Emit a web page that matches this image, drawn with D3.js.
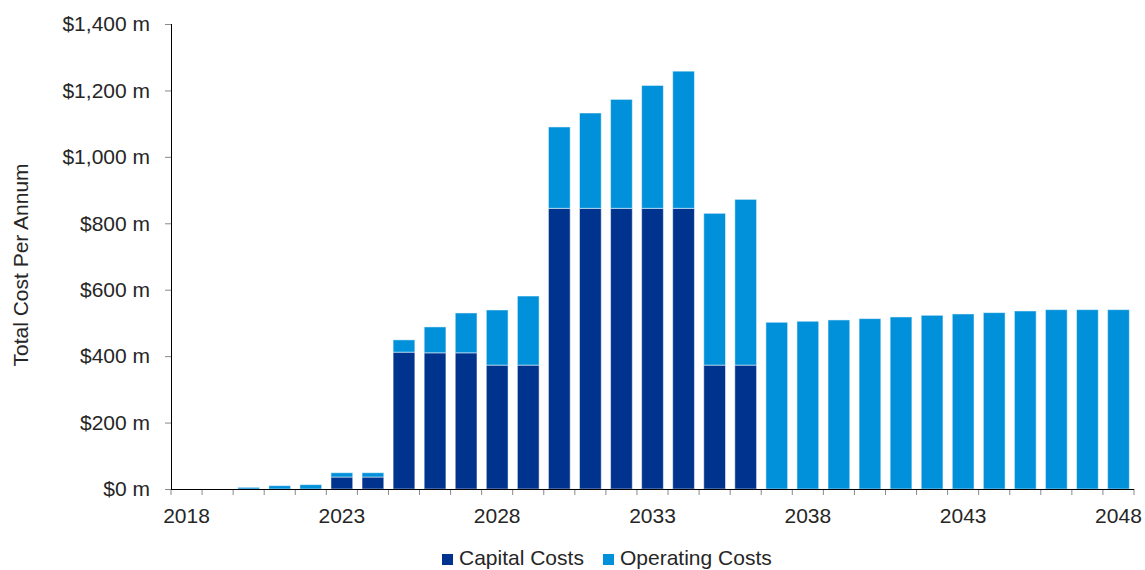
<!DOCTYPE html>
<html>
<head>
<meta charset="utf-8">
<script src="https://cdn.jsdelivr.net/npm/d3@7"></script>
<style>
  body { margin: 0; background: #fff; }
  svg text { font-family: "Liberation Sans", Arial, sans-serif; fill: #262626; }
</style>
</head>
<body>
<div id="chart"></div>
<script>
// Anos e custos (em $ milhões)
const years = d3.range(2018, 2049);
const capitalCosts = [0, 0, 0, 0, 0, 36, 36, 412, 410, 410, 373, 373, 845, 845, 845, 845, 845, 373, 373,
  0, 0, 0, 0, 0, 0, 0, 0, 0, 0, 0, 0];
const operatingCosts = [0, 0, 5, 10, 13, 13, 13, 37, 78, 120, 166, 208, 245, 287, 328, 370, 413, 457, 499,
  502, 505, 509, 513, 518, 523, 527, 531, 536, 540, 540, 540];
const yTicks = [0, 200, 400, 600, 800, 1000, 1200, 1400];
const xLabels = [2018, 2023, 2028, 2033, 2038, 2043, 2048];
const seriesNames = ["Capital Costs", "Operating Costs"];

const colors = { "Capital Costs": "#00338d", "Operating Costs": "#0091da" };

const width = 1145, height = 570;
const margin = { top: 24, right: 11, bottom: 81, left: 171 };
const innerW = width - margin.left - margin.right;
const innerH = height - margin.top - margin.bottom;

const svg = d3.select("#chart").append("svg")
  .attr("width", width)
  .attr("height", height);

const g = svg.append("g").attr("transform", `translate(${margin.left},${margin.top})`);

// Escalas
const x = d3.scaleBand().domain(years).range([0, innerW]).paddingInner(0.3).paddingOuter(0.15);
const y = d3.scaleLinear().domain([0, 1400]).range([innerH, 0]);

// Dados empilhados
const table = years.map((yr, i) => ({
  year: yr,
  "Capital Costs": capitalCosts[i],
  "Operating Costs": operatingCosts[i],
}));
const stacked = d3.stack().keys(seriesNames)(table);

// Barras
g.selectAll(".series")
  .data(stacked)
  .enter()
  .append("g")
  .attr("class", "series")
  .attr("fill", (d) => colors[d.key])
  .selectAll("rect")
  .data((d) => d.filter((p) => p[1] - p[0] > 0))
  .enter()
  .append("rect")
  .attr("x", (d) => x(d.data.year))
  .attr("width", x.bandwidth())
  .attr("y", (d) => y(d[1]))
  .attr("height", (d) => y(d[0]) - y(d[1]))
  .attr("stroke", "rgba(255,255,255,0.5)")
  .attr("stroke-width", 1);

// Eixo Y
const yAxis = g.append("g")
  .call(d3.axisLeft(y).tickValues(yTicks).tickSize(6).tickPadding(15)
    .tickFormat((d) => "$" + d3.format(",")(d) + " m"));
yAxis.select(".domain").attr("stroke", "#000").attr("d", `M0.5,0V${innerH}`);
yAxis.selectAll(".tick line").attr("stroke", "#888");
yAxis.selectAll(".tick text").style("font-size", "21px").attr("fill", "#262626");

// Eixo X: linhas de tick nas bordas das categorias
const step = x.step();
const edgeOffset = step * x.paddingInner() / 2;
const edges = years.map((yr) => x(yr) - edgeOffset).concat([innerW]);

const xAxis = g.append("g").attr("transform", `translate(0,${innerH})`);
xAxis.selectAll("line.tick")
  .data(edges)
  .enter()
  .append("line")
  .attr("class", "tick")
  .attr("x1", (d) => d)
  .attr("x2", (d) => d)
  .attr("y1", 0)
  .attr("y2", 6)
  .attr("stroke", "#888");
xAxis.append("line")
  .attr("x1", 0)
  .attr("x2", innerW)
  .attr("y1", 0.5)
  .attr("y2", 0.5)
  .attr("stroke", "#000");
xAxis.selectAll("text.label")
  .data(xLabels)
  .enter()
  .append("text")
  .attr("class", "label")
  .attr("x", (d) => x(d) + x.bandwidth() / 2)
  .attr("y", 34)
  .attr("text-anchor", "middle")
  .style("font-size", "21px")
  .text((d) => d);

// Título do eixo Y
svg.append("text")
  .attr("transform", `translate(28,${265}) rotate(-90)`)
  .attr("text-anchor", "middle")
  .style("font-size", "21px")
  .text("Total Cost Per Annum");

// Legenda
const legendItems = [
  { name: "Capital Costs", x: 442 },
  { name: "Operating Costs", x: 603 },
];
const legend = svg.append("g").attr("class", "legend");
legendItems.forEach((item) => {
  legend.append("rect")
    .attr("x", item.x)
    .attr("y", 554)
    .attr("width", 11)
    .attr("height", 11)
    .attr("fill", colors[item.name]);
  legend.append("text")
    .attr("x", item.x + 17)
    .attr("y", 565)
    .style("font-size", "21px")
    .text(item.name);
});
</script>
</body>
</html>
